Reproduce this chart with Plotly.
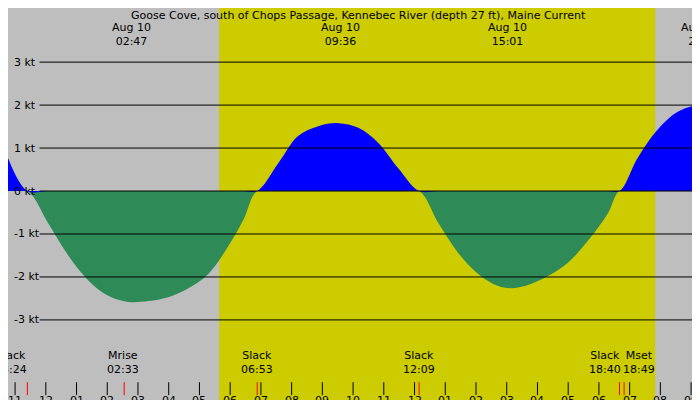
import numpy as np
import plotly.graph_objects as go

# hours from midnight Aug 10 (negative = previous day)
hours = [-1.23, -0.6, 0.07, 0.72, 1.37, 2.03, 2.68, 3.33, 3.98, 4.64, 5.29, 5.94, 6.43, 6.88,
         7.57, 8.21, 8.87, 9.52, 10.17, 10.82, 11.47, 12.15, 12.77, 13.42, 14.07, 14.72, 15.2,
         15.69, 16.34, 16.99, 17.64, 18.3, 18.67, 19.26, 19.9, 20.55, 21.2, 21.55]
knots = [0.77, 0.0, -0.74, -1.49, -2.07, -2.44, -2.58, -2.56, -2.47, -2.26, -1.93, -1.28, -0.67, 0.0,
         0.65, 1.28, 1.51, 1.58, 1.47, 1.12, 0.53, 0.0, -0.74, -1.44, -1.93, -2.21, -2.26,
         -2.19, -1.98, -1.67, -1.16, -0.51, 0.0, 0.77, 1.42, 1.84, 2.0, 2.0]
sunrise, sunset = 5.64, 19.83
peak_times = [2.78, 9.6, 15.02, 21.3]
peak_labels = ["Aug 10<br>02:47", "Aug 10<br>09:36", "Aug 10<br>15:01", "Aug 10<br>21:1"]
event_times = [-0.6, 2.55, 6.88, 12.15, 18.67, 18.82]
event_label_pos = [-1.12, 2.5, 6.88, 12.15, 18.2, 19.3]
event_labels = ["Slack<br>23:24", "Mrise<br>02:33", "Slack<br>06:53", "Slack<br>12:09", "Slack<br>18:40", "Mset<br>18:49"]
tick_hours = list(range(-1, 22))
tick_text = ["11", "12"] + ["%02d" % h for h in range(1, 13)] + ["%02d" % h for h in range(1, 10)]
grid_levels = [3, 2, 1, 0, -1, -2, -3]

x0, x1 = -1.23, 21.55
y0, y1 = -5.05, 4.26
h = np.array(hours)
k = np.array(knots)

fig = go.Figure()
fig.add_trace(go.Scatter(x=h, y=np.minimum(k, 0), fill="tozeroy", mode="none",
                         fillcolor="#2e8b57", line_shape="spline"))
fig.add_trace(go.Scatter(x=h, y=np.maximum(k, 0), fill="tozeroy", mode="none",
                         fillcolor="#0000ff", line_shape="spline"))

shapes = [dict(type="rect", x0=sunrise, x1=sunset, y0=y0, y1=y1, xref="x", yref="y",
               fillcolor="#cccc00", line_width=0, layer="below")]
for lv in grid_levels:
    shapes.append(dict(type="line", xref="paper", x0=0.045, x1=1, yref="y", y0=lv, y1=lv,
                       line=dict(color="black", width=1)))
for t in tick_hours:
    shapes.append(dict(type="line", x0=t, x1=t, y0=-4.45, y1=-4.75, xref="x", yref="y",
                       line=dict(color="black", width=1)))
for t in event_times:
    shapes.append(dict(type="line", x0=t, x1=t, y0=-4.45, y1=-4.75, xref="x", yref="y",
                       line=dict(color="red", width=1)))

ann = [dict(x=0.5, y=1, xref="paper", yref="paper", text="Goose Cove, south of Chops Passage, Kennebec River (depth 27 ft), Maine Current",
            showarrow=False, yanchor="top", yshift=1, font=dict(size=11))]
for t, s in zip(peak_times, peak_labels):
    ann.append(dict(x=t, y=1.0, xref="x", yref="paper", yshift=-11, text=s, showarrow=False,
                    yanchor="top", font=dict(size=11)))
for t, s in zip(event_label_pos, event_labels):
    ann.append(dict(x=t, y=-4.0, xref="x", yref="y", text=s, showarrow=False, font=dict(size=11)))
for t, s in zip(tick_hours, tick_text):
    ann.append(dict(x=t, y=-4.88, xref="x", yref="y", text=s, showarrow=False, font=dict(size=11)))
for lv in grid_levels:
    ann.append(dict(x=0.005, y=lv, xref="paper", yref="y", text="%d kt" % lv, showarrow=False,
                    xanchor="left", font=dict(size=11)))

fig.update_layout(width=700, height=400, margin=dict(l=0, r=0, t=0, b=0, pad=0, autoexpand=False),
                  paper_bgcolor="#bebebe", plot_bgcolor="#bebebe", showlegend=False,
                  font=dict(family="DejaVu Sans", color="black"),
                  xaxis=dict(range=[x0, x1], visible=False),
                  yaxis=dict(range=[y0, y1], visible=False),
                  shapes=shapes, annotations=ann)
fig.write_html("out.html")
